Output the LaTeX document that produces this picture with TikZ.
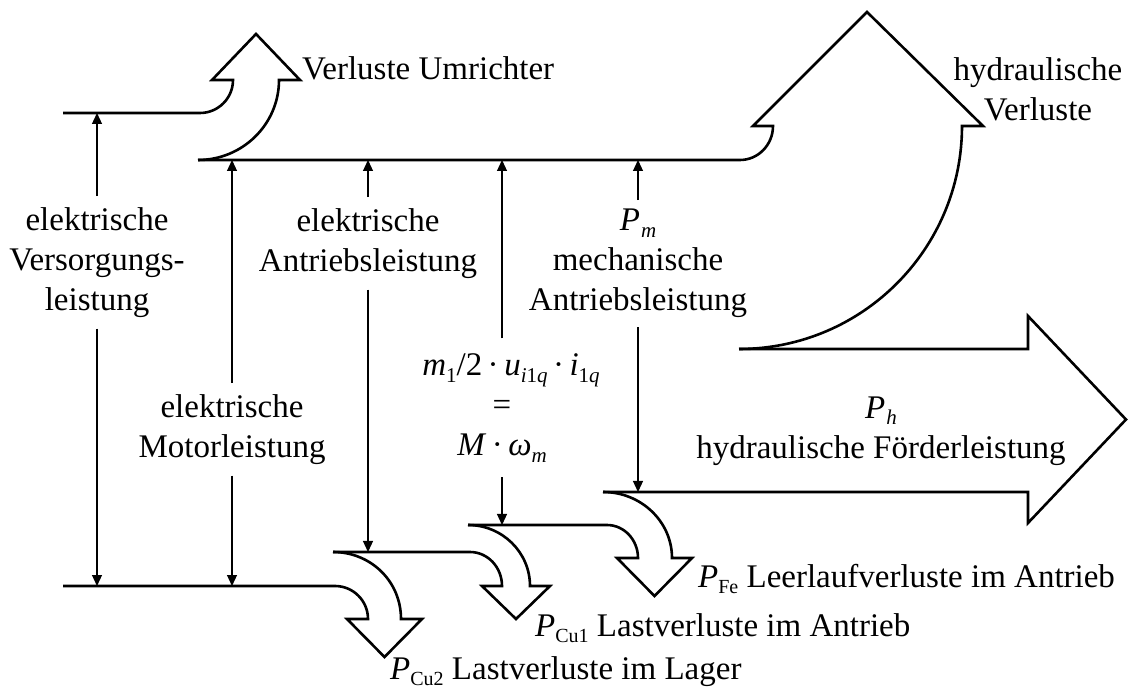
\documentclass[tikz,border=0pt]{standalone}
\usepackage{fontspec}
\setmainfont{Liberation Serif}
\usetikzlibrary{arrows.meta}
\newcommand{\mi}[1]{\textit{#1}}
\newcommand{\sbt}[1]{\raisebox{-0.2em}{\fontsize{20}{20}\selectfont #1}}
\newcommand{\sbm}[1]{\raisebox{-0.2em}{\fontsize{21}{21}\selectfont #1}}
\begin{document}
\begin{tikzpicture}[x=1pt,y=-1pt,
  flow/.style={line width=2.6pt, line join=miter},
  pow/.style={line width=1.2pt, -{Triangle[length=11pt,width=10pt]}},
  lab/.style={align=center, inner xsep=0pt, inner ysep=11pt, font=\fontsize{33}{40}\selectfont},
  txt/.style={inner sep=0pt, font=\fontsize{33}{40}\selectfont}]
\useasboundingbox[fill=white] (0,0) rectangle (1128,692);

% ---- Sankey outline ----
\draw[flow] (63,113) -- (200,113) .. controls (218.2,113) and (233,98.2) .. (233,80)
  -- (212,80) -- (256,34) -- (300,80) -- (279,80)
  .. controls (279,124.2) and (242.7,160) .. (198,160);
\draw[flow] (198,160) -- (740,160) .. controls (758.2,160) and (773,144.8) .. (773,126)
  -- (753,126) -- (867,12) -- (983,126) -- (962,126)
  .. controls (962,249.1) and (862.1,349) .. (739,349);
\draw[flow] (739,349) -- (1028,349) -- (1028,316) -- (1126,419.5) -- (1028,523)
  -- (1028,492) -- (603,492);
\draw[flow] (603,492) .. controls (641.1,492) and (672,521.6) .. (672,558)
  -- (692,558) -- (654.5,596) -- (617,558) -- (638,558)
  .. controls (638,539.8) and (624.1,525) .. (607,525) -- (468,525);
\draw[flow] (468,525) .. controls (502.2,525) and (530,552.3) .. (530,586)
  -- (550,586) -- (516,619) -- (482,586) -- (502,586)
  .. controls (502,567.2) and (487.7,552) .. (470,552) -- (333,552);
\draw[flow] (333,552) .. controls (370.5,552) and (401,581) .. (401,619)
  -- (422,619) -- (384.5,657) -- (347,619) -- (368,619)
  .. controls (368,600.8) and (353.2,586) .. (335,586) -- (63,586);

% ---- end points of the power arrows ----
\coordinate (s1t) at (97,113);  \coordinate (s1b) at (97,586);
\coordinate (m1t) at (232,160); \coordinate (m1b) at (232,586);
\coordinate (e1t) at (368,160); \coordinate (e1b) at (368,552);
\coordinate (a1t) at (502,160); \coordinate (a1b) at (502,525);
\coordinate (p1t) at (638,160); \coordinate (p1b) at (638,492);

% ---- labels on the power arrows ----
\node[lab] (sup) at (97,262.4) {elektrische\\Versorgungs-\\leistung};
\node[lab] (mot) at (232,429.4) {elektrische\\Motorleistung};
\node[lab] (ean) at (368,243.4) {elektrische\\Antriebsleistung};
\node[lab, inner ysep=15pt] (agp) at (502,407.9)
  {\hspace{18pt}\mi{m}\sbm{1}/2\,·\,\mi{u}\sbm{\mi{i}1\mi{q}}\,·\,\mi{i}\sbm{1\mi{q}}\\=\\\mi{M}\,·\,\mi{ω}\sbm{\mi{m}}};
\node[lab, inner ysep=9pt] (mech) at (638,263.7) {\mi{P}\kern1pt\sbm{\mi{m}}\\mechanische\\Antriebsleistung};

\draw[pow] (sup.north) -- (s1t); \draw[pow] (sup.south) -- (s1b);
\draw[pow] (mot.north) -- (m1t); \draw[pow] (mot.south) -- (m1b);
\draw[pow] (ean.north) -- (e1t); \draw[pow] (ean.south) -- (e1b);
\draw[pow] (agp.north) -- (a1t); \draw[pow] (agp.south) -- (a1b);
\draw[pow] (mech.north) -- (p1t); \draw[pow] (mech.south) -- (p1b);

% ---- loss and output labels ----
\node[txt, anchor=base west] (lu) at (302,80) {Verluste Umrichter};
\node[lab, inner ysep=0pt] (hv) at (1038,89.5) {hydraulische\\Verluste};
\node[lab, inner ysep=0pt] (ph) at (881,431) {\mi{P}\kern1pt\sbm{\mi{h}}\\hydraulische Förderleistung};
\node[txt, anchor=base west] (fe) at (698,587) {\mi{P}\sbt{Fe} Leerlaufverluste im Antrieb};
\node[txt, anchor=base west] (cu1) at (535,636) {\mi{P}\sbt{Cu1} Lastverluste im Antrieb};
\node[txt, anchor=base west] (cu2) at (390,679) {\mi{P}\sbt{Cu2} Lastverluste im Lager};
\end{tikzpicture}
\end{document}
